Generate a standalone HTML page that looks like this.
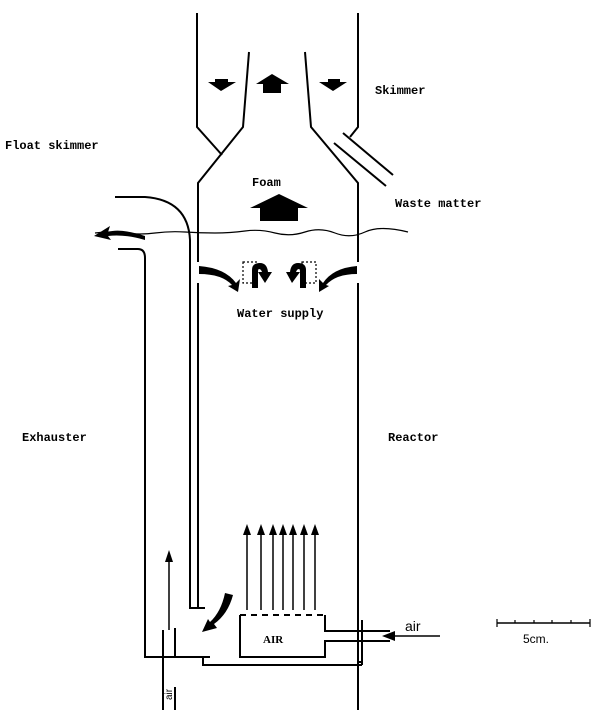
<!DOCTYPE html>
<html><head><style>
body{margin:0;background:#fff}
svg{display:block}
text{font-family:"Liberation Mono",monospace;font-weight:bold;font-size:12px;fill:#000}
</style></head><body>
<svg width="600" height="710" viewBox="0 0 600 710" xmlns="http://www.w3.org/2000/svg">
<g fill="none" stroke="#000" stroke-width="2">
<path d="M197,13 V127 L222,155"/>
<path d="M358,13 V127 L350,137"/>
<path d="M249,52 L243,127 L198,183 V262"/>
<path d="M198,283 V608"/>
<path d="M305,52 L311,127 L358,183 V262"/>
<path d="M358,283 V710"/>
<path d="M343,133 L393,175"/>
<path d="M334,143 L386,186"/>
<path d="M115,197 H145 Q188,200 190,240 V608 H205"/>
<path d="M118,249 H138 Q145,249 145,258 V657 H210"/>
<path d="M203,657 V665 H362"/>
<path d="M163,630 V710"/>
<path d="M175,628 V657"/>
<path d="M175,687 V710"/>
<path d="M240,615 V657 H325 V641 H390"/>
<path d="M325,615 V631 H390"/>
<path d="M240,615 H325" stroke-dasharray="6,5"/>
<path d="M362,620 V665"/>
<path d="M358,662 H362"/>
<path d="M390,636 H440" stroke-width="1.5"/>
<path d="M497,623 H590" stroke-width="1.5"/>
<path d="M497,619V627M515,620V623M534,620V623M552,620V623M571,620V623M590,619V627" stroke-width="1.2"/>
<path d="M247,610V532M261,610V532M273,610V532M283,610V532M293,610V532M304,610V532M315,610V532M169,630V560" stroke-width="1.5"/>
<path d="M95,233 Q110,231 125,233 T155,233 T185,232 T215,233 T245,231 T275,233 T305,232 T335,233 T365,232 T408,232" stroke-width="1.2"/>
<path d="M243,262 H257 V283 H243 Z M302,262 H316 V283 H302 Z" stroke-width="1.2" stroke-dasharray="2,2"/>
</g>
<g fill="#000">
<polygon points="247,524 243,535 251,535"/><polygon points="261,524 257,535 265,535"/>
<polygon points="273,524 269,535 277,535"/><polygon points="283,524 279,535 287,535"/>
<polygon points="293,524 289,535 297,535"/><polygon points="304,524 300,535 308,535"/>
<polygon points="315,524 311,535 319,535"/><polygon points="169,550 165,562 173,562"/>
<polygon points="382,636 395,631 395,641"/>
<polygon points="215,79 228,79 228,82 236,82 221,91 208,82 215,82"/>
<polygon points="328,79 340,79 340,82 347,82 333,91 319,82 328,82"/>
<polygon points="272,74 289,84 281,84 281,93 263,93 263,84 256,84"/>
<polygon points="279,194 308,208 298,208 298,221 260,221 260,208 250,208"/>
<path d="M145,236 Q120,228 108,232 L110,226 L94,236 L111,240 L108,236 Q125,234 145,240 Z"/>
<path d="M199,266 Q225,268 236,283 L240,279 L238,292 L228,286 L232,285 Q222,274 199,274 Z"/>
<path d="M357,266 Q333,268 323,283 L319,279 L319,292 L329,286 L326,285 Q336,274 357,274 Z"/>
<path d="M252,288 V270 Q252,263 260,263 Q267,263 268,272 L272,272 L265,283 L258,272 L262,272 Q261,269 259,269 Q258,269 258,272 V288 Z"/>
<path d="M306,288 V270 Q306,263 298,263 Q291,263 290,272 L286,272 L292,283 L300,272 L296,272 Q297,269 299,269 Q300,269 300,272 V288 Z"/>
<path d="M233,595 Q228,614 214,624 L217,628 L202,632 L208,619 L210,622 Q221,612 225,593 Z"/>
</g>
<text x="375" y="94">Skimmer</text>
<text x="5" y="149">Float skimmer</text>
<text x="252" y="186">Foam</text>
<text x="395" y="207">Waste matter</text>
<text x="237" y="317">Water supply</text>
<text x="22" y="441">Exhauster</text>
<text x="388" y="441">Reactor</text>
<text x="263" y="643" style="font-family:'Liberation Serif',serif;font-size:11px">AIR</text>
<text x="405" y="631" style="font-family:'Liberation Sans',sans-serif;font-weight:normal;font-size:14px">air</text>
<text x="523" y="643" style="font-family:'Liberation Sans',sans-serif;font-weight:normal;font-size:12px">5cm.</text>
<text transform="translate(172,700) rotate(-90)" style="font-family:'Liberation Sans',sans-serif;font-weight:normal;font-size:10px">air</text>
</svg>
</body></html>
